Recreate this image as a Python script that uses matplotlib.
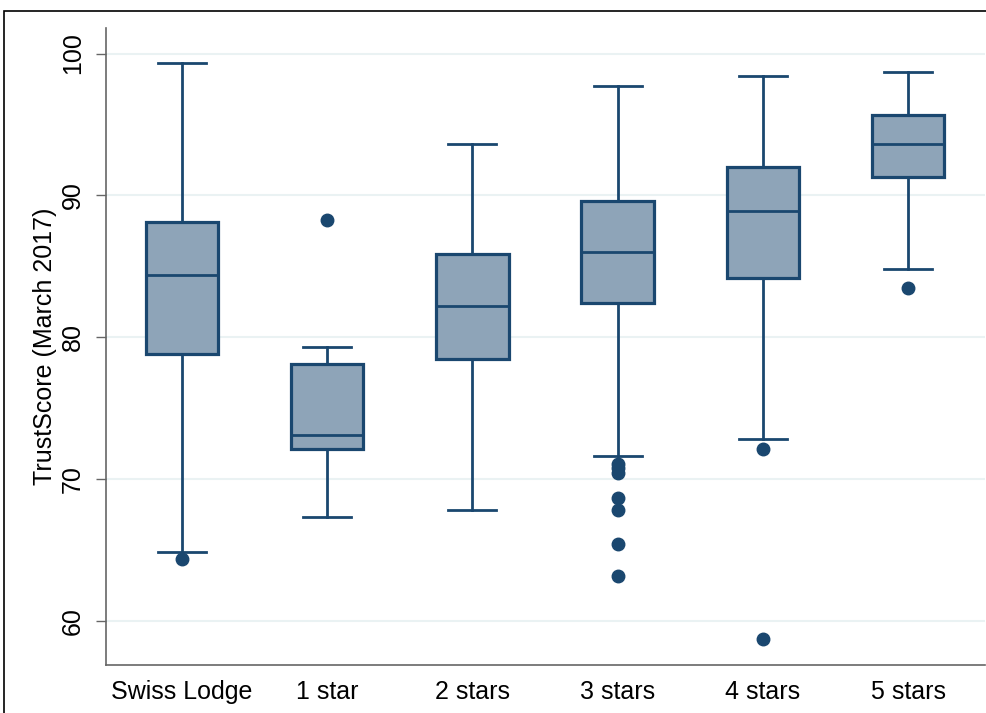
import matplotlib
matplotlib.use('Agg')
import matplotlib.pyplot as plt
from matplotlib.patches import Rectangle

plt.rcParams['font.family'] = ['Liberation Sans', 'DejaVu Sans']

# categorias y estadisticos
categories = ['Swiss Lodge', '1 star', '2 stars', '3 stars', '4 stars', '5 stars']
whisker_lo = [64.9, 67.3, 67.8, 71.6, 72.8, 84.8]
q1 = [78.8, 72.1, 78.5, 82.4, 84.2, 91.3]
median = [84.4, 73.1, 82.2, 86.0, 88.9, 93.6]
q3 = [88.1, 78.1, 85.9, 89.6, 92.0, 95.7]
whisker_hi = [99.3, 79.3, 93.6, 97.7, 98.4, 98.7]
outliers = [
    [64.4],
    [88.3],
    [],
    [71.1, 70.8, 70.4, 68.7, 67.8, 65.4, 63.2],
    [72.1, 58.7],
    [83.5],
]
yticks = [60, 70, 80, 90, 100]

edge = '#1a476f'
fill = '#8ea4b8'

stats = []
for i, name in enumerate(categories):
    stats.append({'label': name, 'whislo': whisker_lo[i], 'q1': q1[i], 'med': median[i],
                  'q3': q3[i], 'whishi': whisker_hi[i], 'fliers': outliers[i]})

fig = plt.figure(figsize=(9.87, 7.13), dpi=100)
ax = fig.add_axes([0.1074, 0.0673, 0.8906, 0.8934])

ax.bxp(stats, positions=range(len(categories)), widths=0.5, patch_artist=True,
       showfliers=True,
       boxprops=dict(facecolor=fill, edgecolor=edge, linewidth=2.3),
       medianprops=dict(color=edge, linewidth=2.0),
       whiskerprops=dict(color=edge, linewidth=2.0),
       capprops=dict(color=edge, linewidth=2.0),
       capwidths=0.33,
       flierprops=dict(marker='o', markerfacecolor=edge, markeredgecolor=edge,
                       markersize=9))

ax.set_xlim(-0.523, 5.53)
ax.set_ylim(56.9, 101.8)
ax.set_yticks(yticks)
ax.set_yticklabels([str(t) for t in yticks], rotation=90, va='center', fontsize=18)
ax.set_ylabel('TrustScore (March 2017)', fontsize=18, labelpad=3)
ax.tick_params(axis='x', length=0, pad=11, labelsize=18)
ax.tick_params(axis='y', length=7, width=1, color='#666666', pad=8)
ax.yaxis.grid(True, color='#eaf2f3', linewidth=1.5)
ax.set_axisbelow(True)

for s in ['top', 'right']:
    ax.spines[s].set_visible(False)
for s in ['left', 'bottom']:
    ax.spines[s].set_color('#666666')
    ax.spines[s].set_linewidth(1.2)

# marco exterior
fig.patches.append(Rectangle((4 / 987, -0.01), 1.0, 1 - 11 / 713 + 0.01,
                             transform=fig.transFigure, fill=False,
                             edgecolor='black', linewidth=1.2))

plt.savefig('out.png', dpi=100)
